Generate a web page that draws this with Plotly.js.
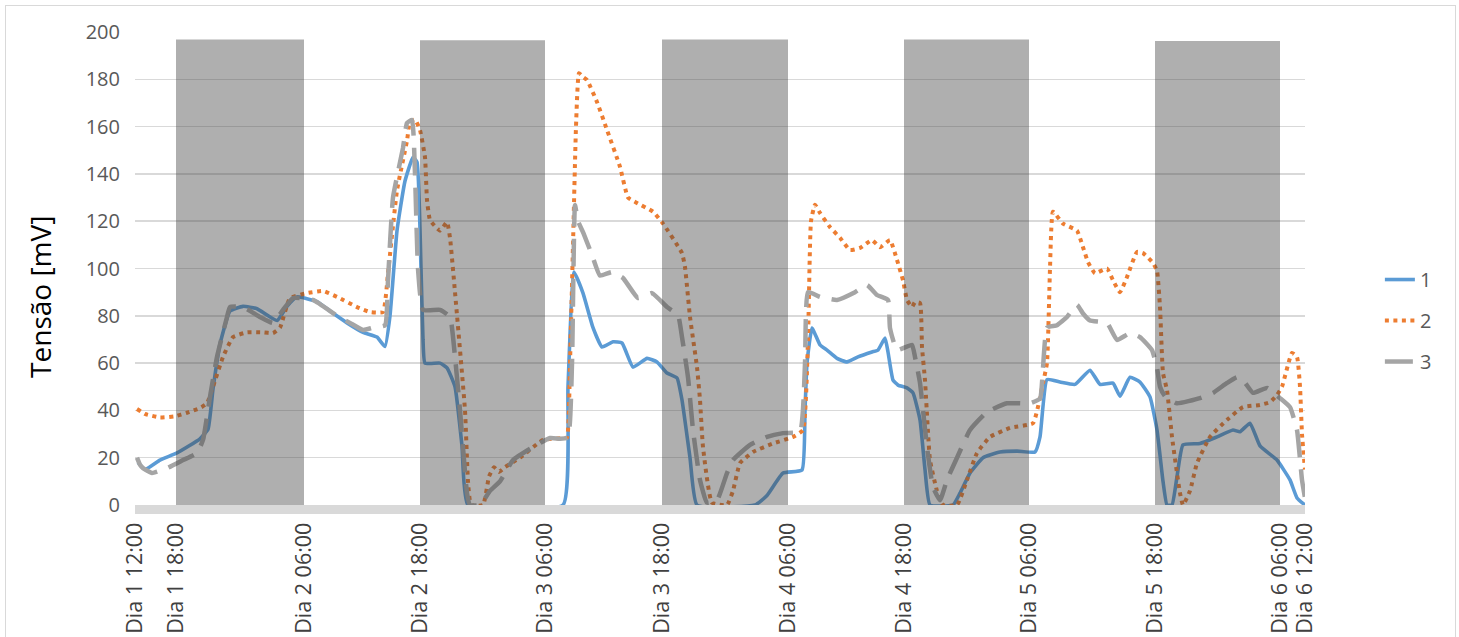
<!DOCTYPE html>
<html>
<head>
<meta charset="utf-8">
<script src="https://cdn.plot.ly/plotly-3.0.1.min.js"></script>
<style>
  html, body { margin: 0; padding: 0; background: #fff; }
  #chart { width: 1459px; height: 637px; }
  #frame { position: absolute; left: 5px; top: 5px; width: 1449px; height: 640px; border: 1px solid #d9d9d9; pointer-events: none; }
</style>
</head>
<body>
<div id="chart"></div>
<div id="frame"></div>
<script>
// Position along the (category-style) time axis
var tickPos = [0, 41, 169, 285, 410, 527, 653, 769, 894, 1020, 1145, 1170];
var tickLabels = ['Dia 1 12:00', 'Dia 1 18:00', 'Dia 2 06:00', 'Dia 2 18:00', 'Dia 3 06:00', 'Dia 3 18:00',
                  'Dia 4 06:00', 'Dia 4 18:00', 'Dia 5 06:00', 'Dia 5 18:00', 'Dia 6 06:00', 'Dia 6 12:00'];

// Night periods (18:00 - 06:00), shaded
var nightStart = [41, 285, 527, 769, 1020];
var nightEnd = [169, 410, 653, 894, 1145];
var nightTop = [196.8, 196.5, 196.8, 196.8, 196.2];

// Series 1
var x1 = [3,10,25,42,65,73,78,85,95,108,122,142,152,162,182,195,212,228,242,250,255,262,270,278,282,286,288,290,305,312,320,327,333,428,433,439,448,458,467,478,487,498,512,522,532,542,547,555,562,620,632,648,667,670,672,677,685,692,702,712,723,737,743,750,753,758,763,772,778,785,790,795,818,825,835,848,865,882,900,905,912,925,940,955,965,978,985,995,1005,1015,1022,1028,1032,1037,1042,1048,1065,1082,1098,1105,1115,1125,1142,1155,1162,1170];
var y1 = [18,15,19,22,28,32,49,68,82,84,83,78,84,88,86,82,77,73,71,67,80,116,137,147,145,100,70,60,60,58,50,25,0,0,50,98.5,89.6,75,66.8,69,68.5,58.3,62,60.5,55.8,53.7,44.4,20,0,0,4,13.5,14.8,40,60,74.8,67.7,65.5,62,60.5,62.6,64.7,65.5,70.6,64.7,52.8,50.7,49.5,47.4,36,15,0,0,5,13.5,20,22.4,22.8,22.4,28.8,53,52,51,57,51,51.5,46,54,52,45.7,31.7,10,0,0,12,25.4,26,28.8,31.7,31,34.6,25,19,10.6,3,0];

// Series 2
var x2 = [2,10,25,40,52,65,72,78,88,98,112,128,138,145,155,172,188,202,222,235,248,253,262,272,275,280,285,290,292,295,305,312,315,320,330,333,336,348,354,359,364,370,385,408,428,432,435,438,441,444,448,452,462,472,485,493,502,518,528,547,550,555,562,565,568,577,592,598,605,618,638,658,668,673,676,680,685,695,705,715,725,737,745,755,762,768,772,777,780,785,787,790,795,802,808,822,832,842,855,875,898,908,912,915,918,928,942,948,953,960,972,978,985,992,1002,1008,1018,1022,1025,1028,1032,1037,1045,1048,1055,1062,1075,1092,1108,1125,1135,1142,1147,1157,1162,1165,1167,1170];
var y2 = [40.6,38.5,37,37.5,39,41,43,50,62.6,71,73,73,72.7,75,87.5,89.6,90.5,88,83.7,81.6,81.6,98,133,154,162,163,158.5,147,129,120.5,116,119.6,113,90,40,10,0,0,12,16,14,16,20,27.5,28.3,28.5,60,110,160,182.6,181,179.7,170.4,158.6,143,130,127.7,124,119,106.5,100.6,79.5,58.3,44.4,24.5,1,0,6,17.7,22.4,26,28.8,31.7,70,120,127,123.5,117.5,113,107.8,108.7,112,109,112,103.6,95,86.7,83.7,85.8,85.4,66.8,52.8,19,6,0,0,10.6,22,28.8,32.6,34.6,51.6,60,100,124,119,116,109,102.7,98,100,95,90,96.4,107,106.5,102.3,99,83.7,55.8,48.6,28.8,5,0,6,17.7,28.8,36,41.4,42.3,43.5,46.5,50,64.3,62.6,50,30,15];

// Series 3
var x3 = [2,5,8,17,32,48,62,68,75,82,92,95,108,125,138,148,158,178,202,215,228,238,250,253,258,268,272,277,280,283,288,305,315,320,325,332,335,345,355,365,378,398,415,425,433,437,440,443,448,457,465,477,488,503,517,532,543,547,553,558,565,572,582,592,598,615,632,648,665,670,673,685,702,720,732,742,753,755,762,777,780,785,792,798,805,812,822,835,852,872,895,905,908,912,922,932,942,948,955,972,982,995,1005,1017,1022,1025,1030,1042,1065,1078,1092,1102,1108,1118,1132,1145,1155,1162,1167,1170];
var y3 = [20,17,15.6,13.5,15.6,19,22,27.5,45.7,62.6,79.5,83.7,83.7,79.5,77,82.5,87.5,86.7,80,77,74,75,76,95,130,151,161.5,162.8,140,100,82.5,82.5,79.5,62.6,40,5,0,0,6,10,19,24.5,28.3,28,28.5,60,126.8,120,115.4,105.7,97,98.5,96,87.5,89.6,83.7,80.3,71,54,31.7,10.6,1,2,13.5,19,25.4,28.8,30.4,31,60,90,88,86.7,90,93,88.8,86.7,74.8,65.5,67.7,62.6,51.6,24.5,7.6,2,10.6,20,31.7,39.3,43,43,45,58,75,76,79.5,84.6,81,78,77,69.8,72.7,71,65.5,58,50,46,43,45.2,47.4,51.6,54,52.8,47.4,49.5,45.2,41.4,31.7,10.6,3];

var seriesNames = ['1', '2', '3'];
var seriesColors = ['#5b9bd5', '#ed7d31', '#a5a5a5'];
var yTitle = 'Tensão [mV]';

var FONT = 'Open Sans, Liberation Sans, sans-serif';

var traces = [
  {x: x1, y: y1, name: seriesNames[0], legendgroup: 'a', type: 'scatter', mode: 'lines',
   line: {color: seriesColors[0], width: 3.6, shape: 'spline', smoothing: 0.4}},
  {x: x2, y: y2, name: seriesNames[1], legendgroup: 'b', type: 'scatter', mode: 'lines',
   line: {color: seriesColors[1], width: 4, dash: '4px,4.5px', shape: 'spline', smoothing: 0.4}},
  {x: x3, y: y3, name: seriesNames[2], legendgroup: 'c', type: 'scatter', mode: 'lines',
   line: {color: seriesColors[2], width: 4.5, dash: '28px,12px', shape: 'spline', smoothing: 0.4}}
];

var shapes = nightStart.map(function (s, i) {
  return {type: 'rect', xref: 'x', yref: 'y', x0: s, x1: nightEnd[i], y0: 0, y1: nightTop[i],
          fillcolor: 'rgba(64,64,64,0.42)', line: {width: 0}, layer: 'above'};
});

var layout = {
  width: 1459, height: 637,
  margin: {l: 135, r: 154, t: 32, b: 132},
  paper_bgcolor: '#ffffff', plot_bgcolor: '#ffffff',
  font: {family: FONT, color: '#595959'},
  showlegend: true,
  legend: {x: 1.064, xanchor: 'left', y: 0.39, yanchor: 'middle',
           font: {family: FONT, size: 20, color: '#595959'}, tracegroupgap: 12,
           bgcolor: 'rgba(0,0,0,0)'},
  xaxis: {
    type: 'linear', range: [0, 1170], fixedrange: true,
    tickmode: 'array', tickvals: tickPos, ticktext: tickLabels, tickangle: -90,
    tickfont: {family: FONT, size: 21.5, color: '#404040'},
    showgrid: false, zeroline: false, ticks: '',
    showline: true, linecolor: '#d9d9d9', linewidth: 9
  },
  yaxis: {
    range: [0, 200], fixedrange: true, dtick: 20, tick0: 0,
    tickfont: {family: FONT, size: 20, color: '#595959'},
    showgrid: true, gridcolor: '#d9d9d9', gridwidth: 1.5,
    zeroline: false, showline: false, ticks: '', ticklabelstandoff: 14
  },
  annotations: [{
    text: yTitle, xref: 'paper', yref: 'paper', x: -0.0812, y: 0.44,
    xanchor: 'center', yanchor: 'middle', textangle: -90, showarrow: false,
    font: {family: FONT, size: 28, color: '#000000'}
  }],
  shapes: shapes
};

Plotly.newPlot('chart', traces, layout, {displayModeBar: false, staticPlot: true});
</script>
</body>
</html>
